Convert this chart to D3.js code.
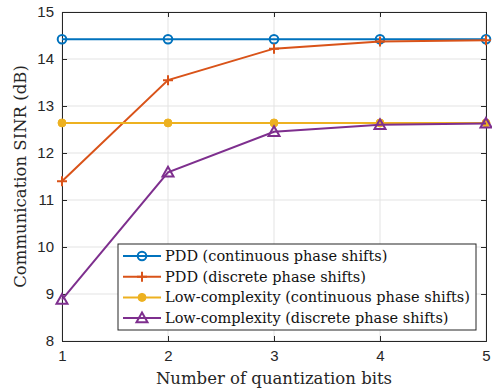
<!DOCTYPE html>
<html>
<head>
<meta charset="utf-8">
<script src="https://cdn.jsdelivr.net/npm/d3@7"></script>
<style>
  body { margin: 0; background: #fff; }
  svg { display: block; }
</style>
</head>
<body>
<svg id="chart" width="492" height="390"></svg>
<script>
// Quantization bits on the x axis
const bits = [1, 2, 3, 4, 5];
// Communication SINR (dB) per scheme
const pddContinuous = [14.42, 14.42, 14.42, 14.42, 14.42];
const pddDiscrete = [11.40, 13.55, 14.22, 14.37, 14.40];
const lowContinuous = [12.64, 12.64, 12.64, 12.64, 12.64];
const lowDiscrete = [8.88, 11.59, 12.45, 12.60, 12.63];
const seriesNames = [
  "PDD (continuous phase shifts)",
  "PDD (discrete phase shifts)",
  "Low-complexity (continuous phase shifts)",
  "Low-complexity (discrete phase shifts)"
];
const yTicks = [8, 9, 10, 11, 12, 13, 14, 15];

const series = [
  { name: seriesNames[0], values: pddContinuous, color: "#0072BD", marker: "circle" },
  { name: seriesNames[1], values: pddDiscrete, color: "#D95319", marker: "plus" },
  { name: seriesNames[2], values: lowContinuous, color: "#EDB120", marker: "dot" },
  { name: seriesNames[3], values: lowDiscrete, color: "#7E2F8E", marker: "triangle" }
];

const svg = d3.select("#chart");
const m = { left: 62, right: 6, top: 12, bottom: 49 };
const W = 492, H = 390;
const x = d3.scaleLinear().domain([1, 5]).range([m.left, W - m.right]);
const y = d3.scaleLinear().domain([8, 15]).range([H - m.bottom, m.top]);

// grid
const grid = svg.append("g");
grid.selectAll("line.gx").data(bits).enter().append("line")
  .attr("x1", d => x(d)).attr("x2", d => x(d))
  .attr("y1", y(8)).attr("y2", y(15))
  .attr("stroke", "#e3e3e3").attr("stroke-width", 1);
grid.selectAll("line.gy").data(yTicks).enter().append("line")
  .attr("x1", x(1)).attr("x2", x(5))
  .attr("y1", d => y(d)).attr("y2", d => y(d))
  .attr("stroke", "#e3e3e3").attr("stroke-width", 1);

// axes
const tickFont = "'Liberation Sans', Arial, sans-serif";
const xAxis = svg.append("g").attr("transform", `translate(0,${y(8)})`)
  .call(d3.axisBottom(x).tickValues(bits).tickFormat(d3.format("d")).tickSize(-5).tickPadding(9));
const xAxisTop = svg.append("g").attr("transform", `translate(0,${y(15)})`)
  .call(d3.axisTop(x).tickValues(bits).tickFormat("").tickSize(-5));
const yAxis = svg.append("g").attr("transform", `translate(${x(1)},0)`)
  .call(d3.axisLeft(y).tickValues(yTicks).tickFormat(d3.format("d")).tickSize(-5).tickPadding(8));
const yAxisRight = svg.append("g").attr("transform", `translate(${x(5)},0)`)
  .call(d3.axisRight(y).tickValues(yTicks).tickFormat("").tickSize(-5));
[xAxis, xAxisTop, yAxis, yAxisRight].forEach(g => {
  g.selectAll("path.domain").attr("stroke", "#262626").attr("stroke-width", 1);
  g.selectAll(".tick line").attr("stroke", "#262626");
  g.selectAll("text").attr("fill", "#262626").style("font-family", tickFont).style("font-size", "15px");
});

// lines and markers
const line = d3.line().x((d, i) => x(bits[i])).y(d => y(d));
series.forEach(s => {
  svg.append("path").datum(s.values)
    .attr("d", line).attr("fill", "none")
    .attr("stroke", s.color).attr("stroke-width", 2);
  s.values.forEach((v, i) => drawMarker(svg, s.marker, x(bits[i]), y(v), s.color));
});

function drawMarker(g, type, cx, cy, color) {
  if (type === "circle") {
    g.append("circle").attr("cx", cx).attr("cy", cy).attr("r", 4.3)
      .attr("fill", "none").attr("stroke", color).attr("stroke-width", 2);
  } else if (type === "plus") {
    g.append("path").attr("d", `M${cx - 5},${cy}H${cx + 5}M${cx},${cy - 5}V${cy + 5}`)
      .attr("stroke", color).attr("stroke-width", 2);
  } else if (type === "dot") {
    g.append("circle").attr("cx", cx).attr("cy", cy).attr("r", 4)
      .attr("fill", color).attr("stroke", color).attr("stroke-width", 1);
  } else if (type === "triangle") {
    const r = 5.5;
    g.append("path").attr("d", `M${cx},${cy - r}L${cx + r},${cy + r * 0.75}L${cx - r},${cy + r * 0.75}Z`)
      .attr("fill", "none").attr("stroke", color).attr("stroke-width", 2);
  }
}

// axis titles
const serif = "'DejaVu Serif', serif";
svg.append("text").attr("x", (x(1) + x(5)) / 2).attr("y", 384)
  .attr("text-anchor", "middle").attr("fill", "#262626")
  .style("font-family", serif).style("font-size", "16.5px")
  .text("Number of quantization bits");
svg.append("text")
  .attr("transform", `translate(26,${(y(8) + y(15)) / 2}) rotate(-90)`)
  .attr("text-anchor", "middle").attr("fill", "#262626")
  .style("font-family", serif).style("font-size", "16.5px")
  .text("Communication SINR (dB)");

// legend
const lg = svg.append("g").attr("transform", "translate(118,244)");
lg.append("rect").attr("width", 358).attr("height", 86)
  .attr("fill", "#fff").attr("stroke", "#262626").attr("stroke-width", 1);
series.forEach((s, i) => {
  const ly = 12 + i * 20.7;
  lg.append("line").attr("x1", 5).attr("x2", 43).attr("y1", ly).attr("y2", ly)
    .attr("stroke", s.color).attr("stroke-width", 2);
  drawMarker(lg, s.marker, 24, ly, s.color);
  lg.append("text").attr("x", 47).attr("y", ly + 5)
    .attr("fill", "#111").style("font-family", serif).style("font-size", "14.5px")
    .text(s.name);
});
</script>
</body>
</html>
